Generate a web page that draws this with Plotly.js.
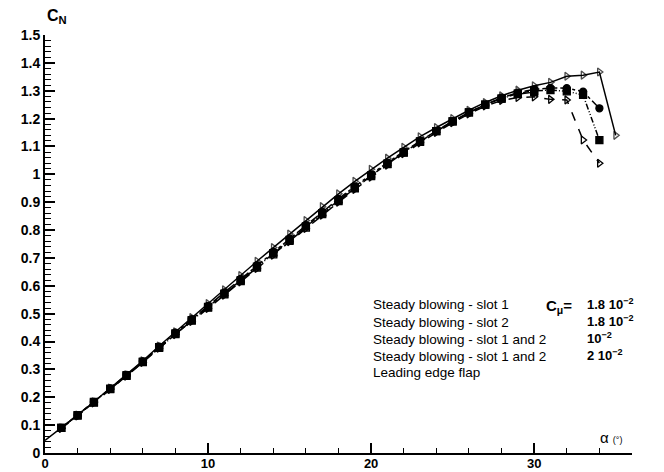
<!DOCTYPE html>
<html>
<head>
<meta charset="utf-8">
<script src="https://cdn.plot.ly/plotly-3.0.1.min.js"></script>
<style>html,body{margin:0;padding:0;background:#fff}#chart{width:664px;height:472px}</style>
</head>
<body>
<div id="chart"></div>
<script>
// Angle of attack (deg) for each series
const alphaSlot1 = [0,1,2,3,4,5,6,7,8,9,10,11,12,13,14,15,16,17,18,19,20,21,22,23,24,25,26,27,28,29,30,31,32,33,34,35];
const alphaSlot2 = [1,2,3,4,5,6,7,8,9,10,11,12,13,14,15,16,17,18,19,20,21,22,23,24,25,26,27,28,29,30,31,32,33,34];
const alphaBoth1 = [1,2,3,4,5,6,7,8,9,10,11,12,13,14,15,16,17,18,19,20,21,22,23,24,25,26,27,28,29,30,31,32,33,34];
const alphaBoth2 = [1,2,3,4,5,6,7,8,9,10,11,12,13,14,15,16,17,18,19,20,21,22,23,24,25,26,27,28,29,30,31,32,33,34];
const alphaFlap  = [1,2,3,4,5,6,7,8,9,10,11,12,13,14,15,16,17,18,19,20,21,22,23,24,25,26,27,28,29,30];

// Normal force coefficient C_N
const cnSlot1 = [0.045,0.09,0.136,0.184,0.233,0.281,0.331,0.384,0.435,0.486,0.536,0.586,0.637,0.688,0.737,0.786,0.834,0.884,0.930,0.975,1.018,1.058,1.097,1.135,1.168,1.200,1.230,1.258,1.282,1.302,1.318,1.330,1.352,1.356,1.367,1.140];
const cnSlot2 = [0.09,0.135,0.183,0.232,0.280,0.329,0.382,0.432,0.480,0.528,0.576,0.625,0.674,0.722,0.770,0.818,0.866,0.912,0.957,1.000,1.042,1.082,1.120,1.156,1.190,1.222,1.250,1.275,1.293,1.305,1.310,1.309,1.297,1.237];
const cnBoth1 = [0.088,0.133,0.180,0.228,0.276,0.325,0.376,0.425,0.472,0.519,0.566,0.614,0.662,0.710,0.758,0.806,0.853,0.900,0.946,0.990,1.033,1.074,1.113,1.150,1.185,1.217,1.245,1.265,1.276,1.278,1.269,1.267,1.123,1.040];
const cnBoth2 = [0.09,0.136,0.183,0.231,0.279,0.328,0.380,0.429,0.477,0.524,0.572,0.620,0.669,0.717,0.765,0.813,0.861,0.907,0.952,0.996,1.038,1.079,1.118,1.155,1.190,1.222,1.250,1.272,1.290,1.300,1.302,1.298,1.285,1.123];
const cnFlap  = [0.09,0.134,0.181,0.229,0.277,0.326,0.377,0.427,0.475,0.522,0.569,0.617,0.665,0.713,0.761,0.809,0.857,0.904,0.950,0.994,1.037,1.078,1.117,1.155,1.190,1.222,1.250,1.272,1.288,1.295];

const legendNames = ["Steady blowing - slot 1","Steady blowing - slot 2","Steady blowing - slot 1 and 2","Steady blowing - slot 1 and 2","Leading edge flap"];
const cmuLabels = ["1.8 10<sup>\u22122</sup>","1.8 10<sup>\u22122</sup>","10<sup>\u22122</sup>","2 10<sup>\u22122</sup>"];

const yTickVals = [0,0.1,0.2,0.3,0.4,0.5,0.6,0.7,0.8,0.9,1,1.1,1.2,1.3,1.4,1.5];
const yTickText = ["0","0.1","0.2","0.3","0.4","0.5","0.6","0.7","0.8","0.9","1","1.1","1.2","1.3","1.4","1.5"];
const xTickVals = [0,10,20,30];
const xTickText = ["0","10","20","30"];

function tr(x, y, sym, dash, name, sizes) {
  return {x: x, y: y, type: 'scatter', mode: 'lines+markers', name: name, cliponaxis: false,
    line: {color: '#000', width: 1.5, dash: dash},
    marker: {symbol: sym, size: sizes || 7, color: '#000', line: {color: '#000', width: 1.3}}};
}
// first slot-1 point (alpha 0) is drawn without a marker in the original
const slot1Sizes = alphaSlot1.map((a, i) => i === 0 ? 0 : 7);

const data = [
  tr(alphaFlap, cnFlap, 'square-open', 'longdash', legendNames[4]),
  tr(alphaBoth2, cnBoth2, 'square', '6px,2px,1px,2px,1px,2px', legendNames[3]),
  tr(alphaBoth1, cnBoth1, 'triangle-right-open', 'dash', legendNames[2]),
  tr(alphaSlot2, cnSlot2, 'circle', 'dashdot', legendNames[1]),
  tr(alphaSlot1, cnSlot1, 'triangle-right-open', 'solid', legendNames[0], slot1Sizes)
];

const L = 45, T = 35, W = 587, H = 418;
function px(xp) { return (xp - L) / W; }
function py(yp) { return (T + H - yp) / H; }

const ann = [];
const rowY = [305, 322, 339, 356, 372];
legendNames.forEach((n, i) => ann.push({xref:'paper', yref:'paper', x: px(371), y: py(rowY[i]), xanchor:'left', yanchor:'middle',
  text: n, showarrow:false, font:{family:'Liberation Sans, Arial', size:13.5, color:'#000'}}));
ann.push({xref:'paper', yref:'paper', x: px(544), y: py(306), xanchor:'left', yanchor:'middle',
  text: '<b>C<sub>\u03bc</sub>=</b>', showarrow:false, font:{family:'Liberation Sans, Arial', size:15, color:'#000'}});
const cmuY = [304, 321, 338, 355];
cmuLabels.forEach((t, i) => ann.push({xref:'paper', yref:'paper', x: px(585), y: py(cmuY[i]), xanchor:'left', yanchor:'middle',
  text: '<b>' + t + '</b>', showarrow:false, font:{family:'Liberation Sans, Arial', size:13, color:'#000'}}));
ann.push({xref:'paper', yref:'paper', x: px(45), y: py(16), xanchor:'left', yanchor:'middle',
  text: '<b>C<sub>N</sub></b>', showarrow:false, font:{family:'Liberation Sans, Arial', size:16, color:'#000'}});
ann.push({xref:'paper', yref:'paper', x: px(598), y: py(437), xanchor:'left', yanchor:'middle',
  text: '\u03b1 <span style="font-size:9px">(\u00b0)</span>', showarrow:false, font:{family:'Liberation Sans, Arial', size:15, color:'#000'}});

const layout = {
  width: 664, height: 472,
  margin: {l: L, r: 664 - L - W, t: T, b: 472 - T - H, pad: 0},
  paper_bgcolor: '#fff', plot_bgcolor: '#fff',
  showlegend: false,
  font: {family: 'Liberation Sans, Arial', color: '#000'},
  xaxis: {range: [0, 36], showgrid: false, zeroline: false, showline: true, linecolor: '#000', linewidth: 2,
    tickmode: 'array', tickvals: xTickVals, ticktext: xTickText, ticks: 'inside', ticklen: 10, tickwidth: 2, tickcolor: '#000',
    ticklabelstandoff: -3,
    tickfont: {family: 'Liberation Sans, Arial', size: 13, color: '#000', weight: 'bold'},
    minor: {tickmode: 'array', tickvals: [2,4,6,8,12,14,16,18,22,24,26,28,32,34,36], ticks: 'inside', ticklen: 5, tickwidth: 1, tickcolor: '#000'}},
  yaxis: {range: [0, 1.5], showgrid: false, zeroline: false, showline: true, linecolor: '#000', linewidth: 2,
    tickmode: 'array', tickvals: yTickVals, ticktext: yTickText, ticks: 'inside', ticklen: 10, tickwidth: 2, tickcolor: '#000',
    tickfont: {family: 'Liberation Sans, Arial', size: 14, color: '#000', weight: 'bold'},
    minor: {dtick: 0.02, ticks: 'inside', ticklen: 6, tickwidth: 1, tickcolor: '#000'}},
  annotations: ann
};

Plotly.newPlot('chart', data, layout, {staticPlot: true, displayModeBar: false});
</script>
</body>
</html>
